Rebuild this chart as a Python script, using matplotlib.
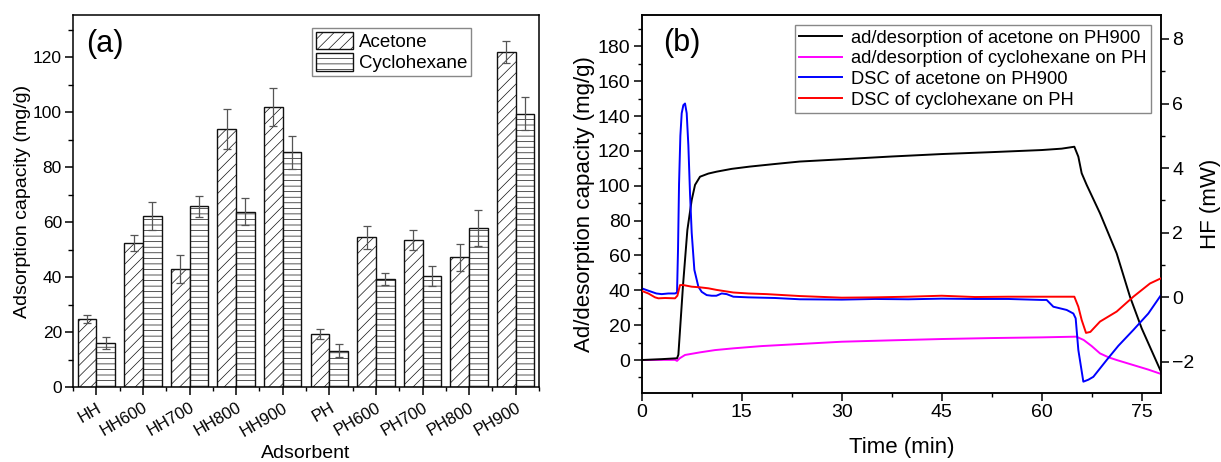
import numpy as np
import matplotlib
matplotlib.use("Agg")
import matplotlib.pyplot as plt
import matplotlib.transforms as mtransforms
from matplotlib.patches import Patch
from matplotlib.ticker import MultipleLocator

plt.rcParams['font.family'] = ['Liberation Sans', 'DejaVu Sans']
plt.rcParams['hatch.linewidth'] = 0.5

# ---------------- Panel (a) data ----------------
adsorbents = ['HH', 'HH600', 'HH700', 'HH800', 'HH900',
              'PH', 'PH600', 'PH700', 'PH800', 'PH900']
acetone = [24.7, 52.4, 42.9, 93.8, 101.8, 19.3, 54.5, 53.5, 47.2, 121.8]
acetone_err = [1.5, 3.0, 5.0, 7.3, 6.9, 1.8, 4.2, 3.6, 5.0, 4.0]
cyclohexane = [16.0, 62.2, 65.7, 63.8, 85.5, 13.2, 39.4, 40.4, 57.8, 99.5]
cyclohexane_err = [2.1, 5.0, 4.0, 5.0, 6.0, 2.4, 2.1, 3.6, 6.5, 6.0]

# ---------------- Panel (b) data ----------------
t_ace = [0, 3, 5.3, 5.5, 6.2, 6.85, 7.5, 8.0, 8.75, 10, 11.25, 13.5, 16.2, 20,
         23.7, 30, 37.5, 45, 52.5, 60, 63, 64.9, 65.5, 66.0, 66.75, 68.75,
         71.25, 73.25, 75, 77.9]
ace_cap = [0, 0.5, 1, 3, 43, 74.6, 91.8, 100.5, 105.2, 107, 108.1, 109.7, 111,
           112.5, 113.9, 115.2, 116.8, 118.2, 119.3, 120.5, 121.3, 122.4, 116.7,
           107.2, 100.5, 84.2, 61.2, 36.3, 18.2, -6.7]

t_cyc = [0, 3, 5.0, 5.3, 5.7, 6.5, 8.75, 11, 13.75, 18, 23.75, 30, 37.5, 45,
         52.5, 60, 65.2, 66.3, 67.5, 68.75, 70, 71.25, 73.75, 76, 77.9]
cyc_cap = [0, 0.1, 0.1, -0.5, 1.0, 2.9, 4.4, 5.7, 6.7, 8.0, 9.2, 10.5, 11.3,
           12.05, 12.6, 13.0, 13.4, 11.5, 8.0, 3.8, 1.6, 0.0, -2.9, -5.5, -8.0]

t_dsc_ace = [0, 0.8, 1.5, 2.2, 3, 4, 5, 5.3, 5.45, 5.6, 5.8, 6.0, 6.25, 6.5,
             6.75, 7.0, 7.25, 7.5, 7.9, 8.5, 9.0, 9.75, 10.5, 11.2, 12.0,
             12.75, 13.75, 16, 20, 23.75, 30, 35, 40, 45, 50, 55, 60, 60.75,
             61.75, 63.75, 64.75, 65.1, 65.5, 66.25, 67.0, 67.75, 69.75, 71.5,
             73.75, 76, 77.9]
dsc_ace = [0.28, 0.22, 0.17, 0.12, 0.10, 0.12, 0.12, 0.15, 1.5, 3.5, 5.0, 5.7,
           5.95, 6.0, 5.7, 4.7, 3.2, 2.0, 0.85, 0.33, 0.17, 0.07, 0.05, 0.05,
           0.12, 0.10, 0.02, 0.0, -0.02, -0.06, -0.07, -0.05, -0.06, -0.04,
           -0.05, -0.05, -0.08, -0.08, -0.29, -0.39, -0.5, -0.65, -1.63, -2.61,
           -2.55, -2.46, -1.94, -1.5, -1.01, -0.5, 0.07]

t_dsc_cyc = [0, 1, 2, 2.5, 3.5, 5, 5.35, 5.75, 6.25, 7.5, 8.75, 10, 11.25,
             13.75, 16, 18.75, 23.75, 30, 35, 40, 45, 50, 55, 60, 64.9,
             65.5, 66.0, 66.65, 67.3, 68.75, 71.25, 73.75, 76.25, 77.9]
dsc_cyc = [0.20, 0.12, 0.0, -0.03, -0.02, -0.03, 0.05, 0.38, 0.38, 0.33,
           0.31, 0.28, 0.23, 0.15, 0.12, 0.10, 0.04, -0.01, 0.0, 0.02, 0.05,
           0.01, 0.02, 0.02, 0.02, -0.29, -0.7, -1.1, -1.07, -0.75, -0.44,
           0.02, 0.43, 0.59]

labels_b = ['ad/desorption of acetone on PH900',
            'ad/desorption of cyclohexane on PH',
            'DSC of acetone on PH900',
            'DSC of cyclohexane on PH']

fig = plt.figure(figsize=(12.21, 4.62), dpi=100)

# ================= Panel (a) =================
axa = fig.add_axes([73/1221, 75/462, 466/1221, 372/462])
x = np.arange(len(adsorbents))
w = 0.4
err_kw = dict(ecolor='#555555', elinewidth=0.9, capsize=3.2, capthick=0.9)
axa.bar(x - w/2, acetone, w, yerr=acetone_err, facecolor='white',
        edgecolor='#111111', linewidth=1.0, hatch='///', error_kw=err_kw,
        zorder=2)
axa.bar(x + w/2, cyclohexane, w, yerr=cyclohexane_err, facecolor='white',
        edgecolor='#111111', linewidth=1.0, hatch='---', error_kw=err_kw,
        zorder=2)
axa.set_xlim(-0.5, 9.5)
axa.set_ylim(0, 135.4)
axa.yaxis.set_major_locator(MultipleLocator(20))
axa.yaxis.set_minor_locator(MultipleLocator(10))
axa.set_xticks(x)
axa.set_xticks(np.arange(-0.5, 10, 1.0), minor=True)
axa.set_xticklabels(adsorbents, rotation=30, ha='right',
                    rotation_mode='anchor', fontsize=12)
shift = mtransforms.ScaledTranslation(7/100, 0, fig.dpi_scale_trans)
for lab in axa.get_xticklabels():
    lab.set_transform(lab.get_transform() + shift)
axa.tick_params(axis='y', which='major', direction='out', length=6,
                width=1.1, labelsize=12.5, pad=2)
axa.tick_params(axis='y', which='minor', direction='out', length=3.5,
                width=1.0)
axa.tick_params(axis='x', which='major', direction='out', length=5.5,
                width=1.1, pad=4)
axa.tick_params(axis='x', which='minor', direction='out', length=3,
                width=1.0)
for s in axa.spines.values():
    s.set_linewidth(1.1)
axa.set_ylabel('Adsorption capacity (mg/g)', fontsize=14, labelpad=1)
axa.set_xlabel('Adsorbent', fontsize=14, labelpad=4)
axa.text(0.029, 0.922, '(a)', transform=axa.transAxes, fontsize=22,
         ha='left', va='center')
handles_a = [Patch(facecolor='white', edgecolor='#111111', hatch='///',
                   linewidth=1.0, label='Acetone'),
             Patch(facecolor='white', edgecolor='#111111', hatch='---',
                   linewidth=1.0, label='Cyclohexane')]
lega = axa.legend(handles=handles_a, loc='upper left',
                  bbox_to_anchor=(0.513, 0.965), borderaxespad=0,
                  fontsize=13.5, fancybox=False, edgecolor='#888888',
                  framealpha=1, handlelength=2.0, handleheight=1.05,
                  labelspacing=0.12, handletextpad=0.3, borderpad=0.2)
lega.get_frame().set_linewidth(1.0)

# ================= Panel (b) =================
axb = fig.add_axes([641.7/1221, 68.7/462, 519.3/1221, 378.3/462])
axr = axb.twinx()
l1, = axb.plot(t_ace, ace_cap, color='black', lw=1.4, zorder=3)
l2, = axb.plot(t_cyc, cyc_cap, color='#ff00ff', lw=1.4, zorder=2)
l3, = axr.plot(t_dsc_ace, dsc_ace, color='#0000ff', lw=1.4, zorder=2)
l4, = axr.plot(t_dsc_cyc, dsc_cyc, color='#ff0000', lw=1.4, zorder=3)
axb.set_xlim(0, 77.9)
axb.set_ylim(-19.1, 198)
axr.set_ylim(-2.97, 8.74)
axb.xaxis.set_major_locator(MultipleLocator(15))
axb.xaxis.set_minor_locator(MultipleLocator(7.5))
axb.yaxis.set_major_locator(MultipleLocator(20))
axb.yaxis.set_minor_locator(MultipleLocator(10))
axr.yaxis.set_major_locator(MultipleLocator(2))
axr.yaxis.set_minor_locator(MultipleLocator(1))
axb.set_yticks(np.arange(0, 181, 20))
axb.tick_params(axis='both', which='major', direction='out', length=6,
                width=1.1, labelsize=14, pad=2)
axb.tick_params(axis='both', which='minor', direction='out', length=3,
                width=1.0)
axr.tick_params(axis='y', which='major', direction='out', length=6,
                width=1.1, labelsize=14, pad=2)
axr.tick_params(axis='y', which='minor', direction='out', length=3,
                width=1.0)
for s in list(axb.spines.values()) + list(axr.spines.values()):
    s.set_linewidth(1.1)
axb.set_xlabel('Time (min)', fontsize=16, labelpad=11)
axb.set_ylabel('Ad/desorption capacity (mg/g)', fontsize=16, labelpad=2)
axr.set_ylabel('HF (mW)', fontsize=16, labelpad=4)
axb.text(0.041, 0.927, '(b)', transform=axb.transAxes, fontsize=22,
         ha='left', va='center')
legb = axr.legend([l1, l2, l3, l4], labels_b, loc='upper left',
                  bbox_to_anchor=(0.295, 0.9736), borderaxespad=0,
                  fontsize=13.2, fancybox=False, edgecolor='#888888',
                  framealpha=1, handlelength=2.3, labelspacing=0.2,
                  handletextpad=0.5, borderpad=0.25)
legb.get_frame().set_linewidth(1.0)

fig.savefig('out.png', dpi=100)
